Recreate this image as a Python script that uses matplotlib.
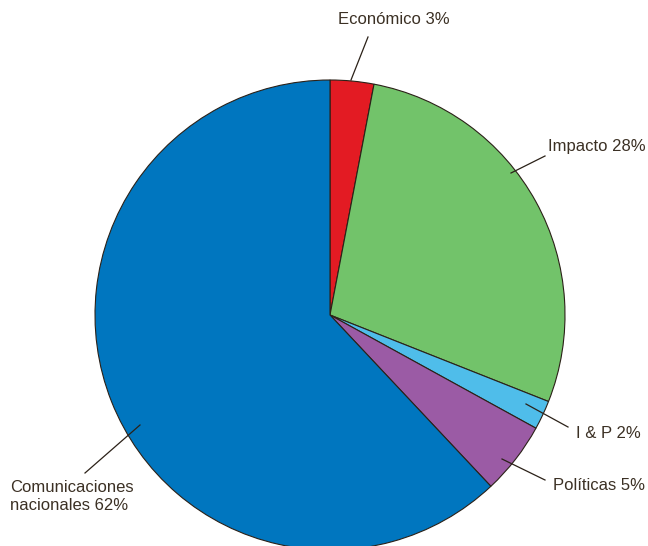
import matplotlib.pyplot as plt

# --- Data ---
labels = ['Económico 3%', 'Impacto 28%', 'I & P 2%', 'Políticas 5%', 'Comunicaciones\nnacionales 62%']
values = [3, 28, 2, 5, 62]
colors = ['#E31B23', '#72C36A', '#4FBDEA', '#9B5BA5', '#0076BF']

W, H = 648, 546
fig = plt.figure(figsize=(W / 100, H / 100), dpi=100)
ax = fig.add_axes([0, 0, 1, 1])
ax.set_xlim(0, W)
ax.set_ylim(0, H)
ax.axis('off')

# pie centre and radius in pixel units (y measured from the bottom)
cx, cy, r = 330, H - 315, 235
ax.pie(values, colors=colors, startangle=90, counterclock=False,
       center=(cx, cy), radius=r, frame=True,
       wedgeprops=dict(edgecolor='#2b2118', linewidth=0.8))
ax.set_xlim(0, W)
ax.set_ylim(0, H)
ax.axis('off')

txt_color = '#3b3024'
line_color = '#2b2118'

# label text positions and leader lines (pixel coords from top)
text_pos = [(394, 20, 'center'), (597, 146, 'center'), (576, 433, 'left'),
            (553, 485, 'left'), (10, 496, 'left')]
leaders = [((368, 37), (351, 80)), ((545, 156), (511, 173)),
           ((568, 427), (526, 404)), ((545, 480), (502, 459)),
           ((85, 473), (140, 425))]

for lab, (tx, ty, ha), (p1, p2) in zip(labels, text_pos, leaders):
    ax.text(tx, H - ty, lab, ha=ha, va='center', fontsize=12,
            family='Liberation Sans', color=txt_color, linespacing=1.25)
    ax.plot([p1[0], p2[0]], [H - p1[1], H - p2[1]], color=line_color, lw=0.9)

fig.savefig('out.png', dpi=100)
